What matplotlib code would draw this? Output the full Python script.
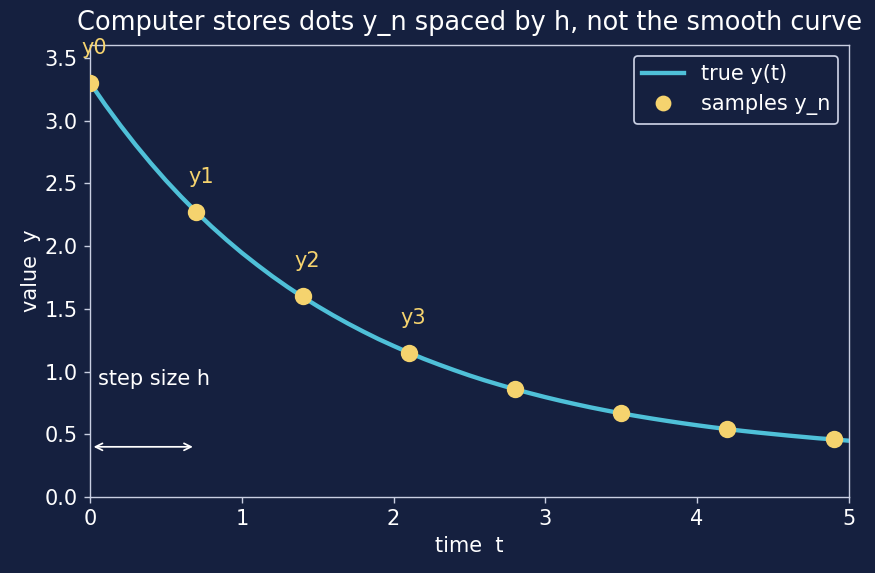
import matplotlib
matplotlib.use("Agg")
import matplotlib.pyplot as plt

plt.rcParams["font.family"] = ["DejaVu Sans"]

# values
t_curve = [round(0.1 * k, 1) for k in range(51)]
y_curve = [3.300, 3.125, 2.961, 2.806, 2.660, 2.522, 2.393, 2.271, 2.156, 2.048,
           1.946, 1.851, 1.760, 1.675, 1.595, 1.520, 1.449, 1.382, 1.319, 1.259,
           1.204, 1.151, 1.101, 1.055, 1.011, 0.969, 0.930, 0.894, 0.859, 0.827,
           0.796, 0.767, 0.740, 0.714, 0.690, 0.667, 0.646, 0.626, 0.607, 0.589,
           0.572, 0.556, 0.541, 0.527, 0.514, 0.502, 0.490, 0.479, 0.468, 0.459,
           0.449]
t_samples = [0.0, 0.7, 1.4, 2.1, 2.8, 3.5, 4.2, 4.9]
y_samples = [3.30, 2.27, 1.60, 1.15, 0.86, 0.67, 0.54, 0.46]
sample_labels = ["y0", "y1", "y2", "y3"]
h = 0.7

bg = "#15203f"
fg = "#c9cfe2"
line_c = "#4fc0d8"
dot_c = "#f5d36e"

fig = plt.figure(figsize=(7.0, 4.584), dpi=125, facecolor=bg)
ax = fig.add_axes([0.103, 0.1326, 0.867, 0.7884], facecolor=bg)

ax.plot(t_curve, y_curve, color=line_c, lw=2.5, label="true y(t)", zorder=2)
ax.plot(t_samples, y_samples, "o", color=dot_c, ms=9, label="samples y_n", zorder=3)

for lab, t, y in zip(sample_labels, t_samples, y_samples):
    ax.text(t + 0.03, y + 0.2, lab, color=dot_c, fontsize=12, ha="center", va="bottom")

ax.annotate("", xy=(0.0, 0.4), xytext=(h, 0.4),
            arrowprops=dict(arrowstyle="<->", color="white", lw=1.0))
ax.text(0.05, 0.94, "step size h", color="white", fontsize=12, va="center")

ax.set_xlim(0, 5)
ax.set_ylim(0, 3.6)
ax.set_xlabel("time  t", color="white", fontsize=12)
ax.set_ylabel("value  y", color="white", fontsize=12, labelpad=2)
ax.set_title("Computer stores dots y_n spaced by h, not the smooth curve",
             color="white", fontsize=14.75, pad=9)

ax.tick_params(colors=fg, labelcolor="white", labelsize=12)
for s in ax.spines.values():
    s.set_color(fg)

leg = ax.legend(loc="upper right", fontsize=12, facecolor=bg, edgecolor=fg,
                framealpha=1, markerscale=0.9)
for txt in leg.get_texts():
    txt.set_color("white")

fig.savefig("out.png", dpi=125, facecolor=bg)
